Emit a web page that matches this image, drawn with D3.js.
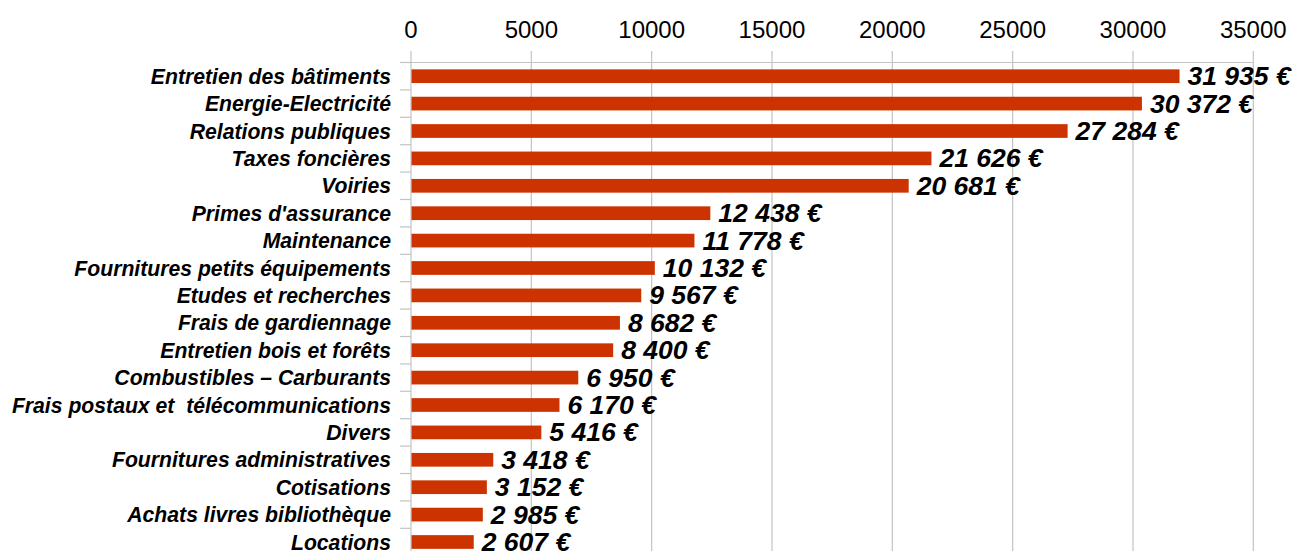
<!DOCTYPE html>
<html>
<head>
<meta charset="utf-8">
<script src="https://cdn.jsdelivr.net/npm/d3@7"></script>
<style>
  html, body { margin: 0; padding: 0; background: #fff; }
  svg { display: block; }
  text { font-family: "Liberation Sans", Arial, sans-serif; }
</style>
</head>
<body>
<svg id="chart" width="1296" height="551"></svg>
<script>
const categories = [
  "Entretien des bâtiments",
  "Energie-Electricité",
  "Relations publiques",
  "Taxes foncières",
  "Voiries",
  "Primes d'assurance",
  "Maintenance",
  "Fournitures petits équipements",
  "Etudes et recherches",
  "Frais de gardiennage",
  "Entretien bois et forêts",
  "Combustibles – Carburants",
  "Frais postaux et  télécommunications",
  "Divers",
  "Fournitures administratives",
  "Cotisations",
  "Achats livres bibliothèque",
  "Locations"
];
const values = [31935, 30372, 27284, 21626, 20681, 12438, 11778, 10132, 9567, 8682, 8400, 6950, 6170, 5416, 3418, 3152, 2985, 2607];
const xTicks = [0, 5000, 10000, 15000, 20000, 25000, 30000, 35000];

(function () {
const svg = d3.select("#chart");
const pLeft = 411, pRight = 1253.3, pTop = 62.5, step = 27.4;

const x = d3.scaleLinear().domain([0, 35000]).range([pLeft, pRight]);
const y = d3.scaleBand().domain(categories).range([pTop, pTop + step * categories.length]).paddingInner(0.5).paddingOuter(0.25);

const grid = "#c3c3c3";

// vertical gridlines + tick marks above top line
svg.append("g").selectAll("line").data(xTicks).join("line")
  .attr("x1", d => x(d)).attr("x2", d => x(d))
  .attr("y1", 51).attr("y2", 551)
  .attr("stroke", grid).attr("stroke-width", 1.2);

// top horizontal line
svg.append("line").attr("x1", 400).attr("x2", pRight).attr("y1", pTop).attr("y2", pTop)
  .attr("stroke", grid).attr("stroke-width", 1.2);

// category separator ticks
const bounds = d3.range(categories.length + 1).map(i => pTop + i * step);
svg.append("g").selectAll("line").data(bounds).join("line")
  .attr("x1", 400).attr("x2", pLeft).attr("y1", d => d).attr("y2", d => d)
  .attr("stroke", grid).attr("stroke-width", 1.2);

// tick labels
svg.append("g").selectAll("text").data(xTicks).join("text")
  .attr("x", d => x(d)).attr("y", 38)
  .attr("text-anchor", "middle")
  .attr("font-size", 24)
  .attr("fill", "#000")
  .text(d => String(d));

// bars
svg.append("g").selectAll("rect").data(values).join("rect")
  .attr("x", x(0) + 0.5)
  .attr("y", (d, i) => y(categories[i]))
  .attr("width", d => x(d) - x(0) - 0.5)
  .attr("height", y.bandwidth())
  .attr("fill", "#cc3300");

const bc = c => y(c) + y.bandwidth() / 2;

// category labels
svg.append("g").selectAll("text").data(categories).join("text")
  .attr("x", 391).attr("y", d => bc(d))
  .attr("dy", "0.36em")
  .attr("text-anchor", "end")
  .attr("font-size", 21.2)
  .attr("font-weight", "bold").attr("font-style", "italic")
  .attr("fill", "#000")
  .style("white-space", "pre")
  .text(d => d);

// value labels
const loc = d3.formatLocale({decimal: ",", thousands: " ", grouping: [3], currency: ["", " €"]});
const fmt = loc.format(",");
svg.append("g").selectAll("text").data(values).join("text")
  .attr("x", d => x(d) + 8).attr("y", (d, i) => bc(categories[i]))
  .attr("dy", "0.34em")
  .attr("font-size", 26.5)
  .attr("font-weight", "bold").attr("font-style", "italic")
  .attr("fill", "#000")
  .text(d => fmt(d) + " €");
})();
</script>
</body>
</html>
